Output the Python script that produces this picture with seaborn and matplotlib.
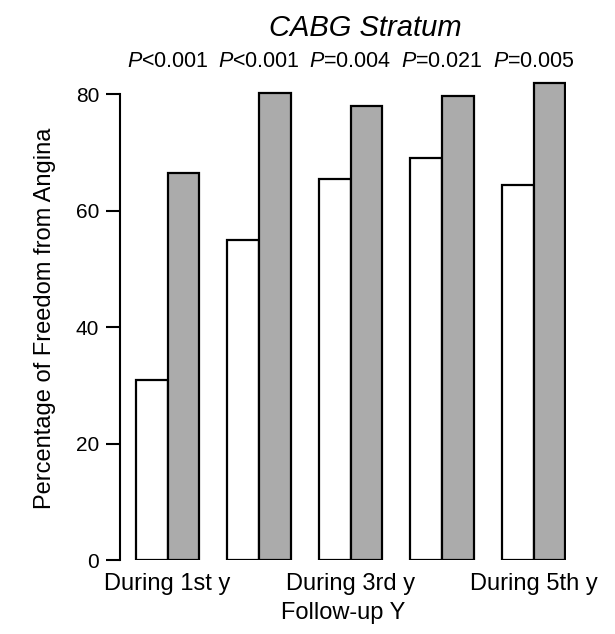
import matplotlib
matplotlib.use('Agg')
import pandas as pd
import matplotlib.pyplot as plt
import seaborn as sns
from matplotlib.transforms import blended_transform_factory

# data
years = ['During 1st y', 'During 2nd y', 'During 3rd y', 'During 4th y', 'During 5th y']
tick_labels = ['During 1st y', '', 'During 3rd y', '', 'During 5th y']
groups = ['Group 1', 'Group 2']
white_vals = [31, 55, 65.5, 69, 64.5]
gray_vals = [66.5, 80.2, 78, 79.7, 82]
p_labels = ['$P$<0.001', '$P$<0.001', '$P$=0.004', '$P$=0.021', '$P$=0.005']
y_ticks = [0, 20, 40, 60, 80]

df = pd.DataFrame({
    'Year': years * 2,
    'Group': [groups[0]] * len(years) + [groups[1]] * len(years),
    'Value': white_vals + gray_vals,
})

sns.set_style('white')
plt.rcParams['font.family'] = ['Liberation Sans', 'DejaVu Sans']
plt.rcParams['mathtext.fontset'] = 'custom'
plt.rcParams['mathtext.it'] = 'Liberation Sans:italic'
plt.rcParams['mathtext.rm'] = 'Liberation Sans'
for key in ['text.color', 'axes.labelcolor', 'xtick.color', 'ytick.color']:
    plt.rcParams[key] = 'black'

fig = plt.figure(figsize=(6.15, 6.34), dpi=100)
ax = fig.add_axes([0.1951, 0.1167, 0.7252, 0.7618])

sns.barplot(data=df, x='Year', y='Value', hue='Group', order=years, hue_order=groups,
            palette=['white', '#ababab'], saturation=1, edgecolor='black',
            linewidth=1.6, width=0.69, legend=False, ax=ax)

ax.set_xlim(-0.52, 4.355)
ax.set_ylim(0, 83)
ax.set_yticks(y_ticks)
ax.set_xticks(range(len(years)))
ax.set_xticklabels(tick_labels, fontsize=17)
ax.tick_params(axis='x', length=0, pad=9)
ax.tick_params(axis='y', length=10, width=1.5, pad=5, labelsize=15, left=True, color='black')

for s in ['top', 'right', 'bottom']:
    ax.spines[s].set_visible(False)
ax.spines['left'].set_bounds(0, 80)
ax.spines['left'].set_linewidth(1.5)
ax.spines['left'].set_color('black')

ax.set_xlabel('Follow-up Y', fontsize=17)
ax.set_ylabel('Percentage of Freedom from Angina', fontsize=17)
ax.xaxis.set_label_coords(0.5, -0.087)
ax.yaxis.set_label_coords(-0.1435, 0.5)

# P values above each group
trans = blended_transform_factory(ax.transData, fig.transFigure)
for i, lab in enumerate(p_labels):
    ax.text(i, 0.8943, lab, transform=trans, ha='center', va='baseline', fontsize=15.5)

fig.text(0.5935, 0.9432, 'CABG Stratum', ha='center', va='baseline',
         fontsize=21, style='italic')

fig.savefig('out.png', dpi=100)
